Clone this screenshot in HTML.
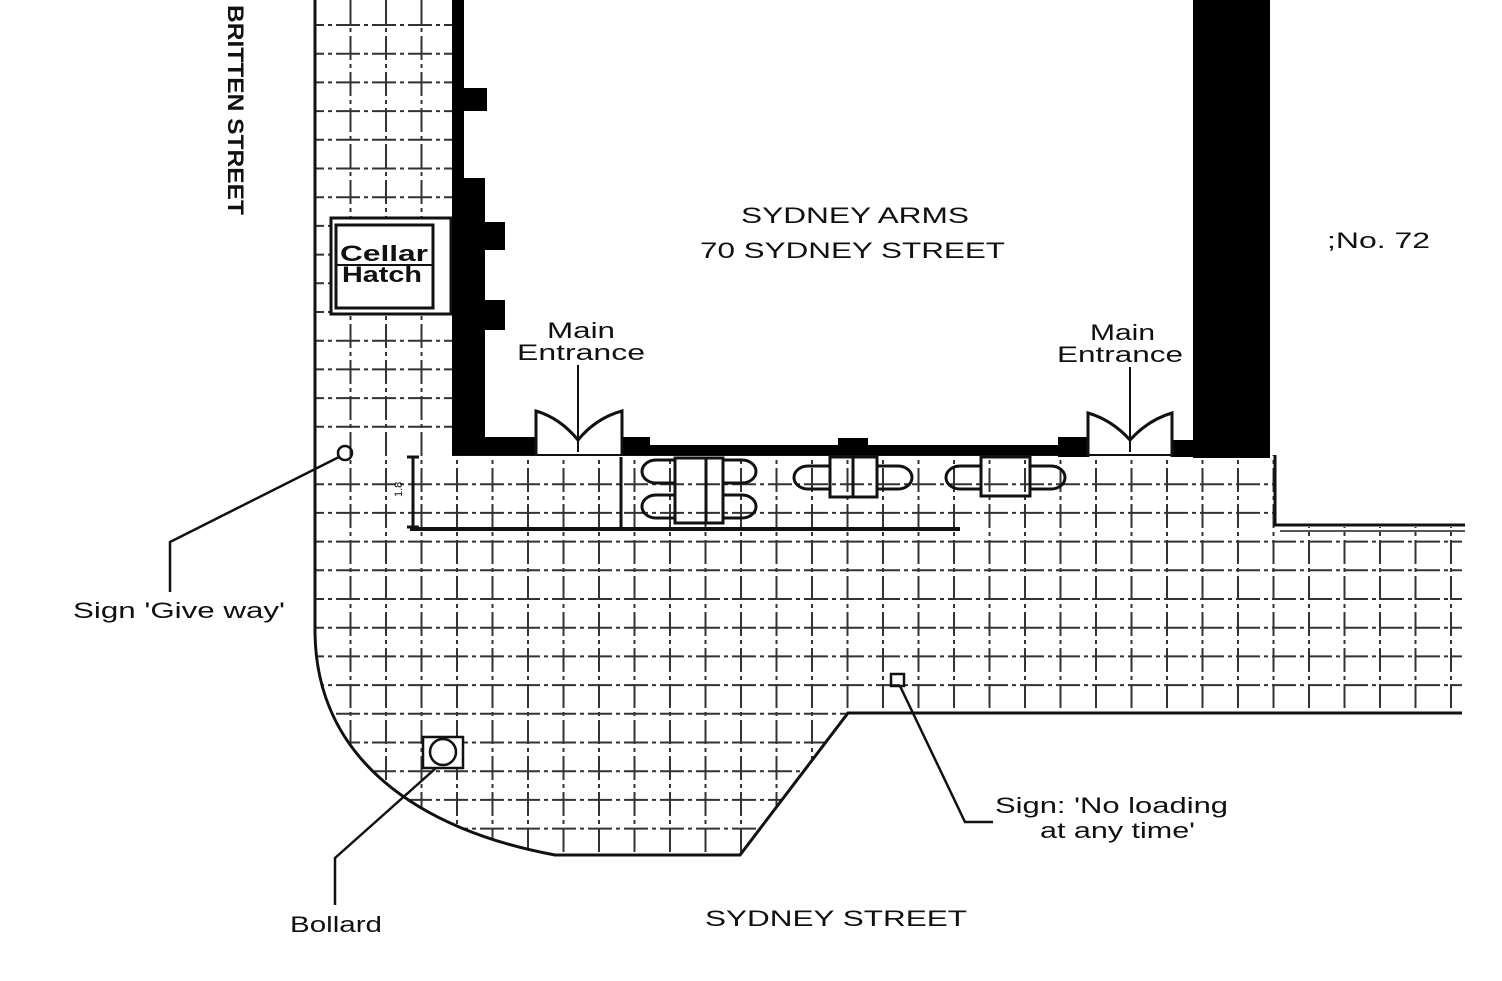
<!DOCTYPE html>
<html><head><meta charset="utf-8"><style>
html,body{margin:0;padding:0;background:#fff;}
svg{display:block;}
text{font-family:"Liberation Sans",sans-serif;fill:#111;}
</style></head><body>
<svg width="1502" height="981" viewBox="0 0 1502 981" xmlns="http://www.w3.org/2000/svg">
<defs>
<clipPath id="pv">
<path d="M315,0 L452,0 L452,455 L1275,455 L1275,527 L1462,527 L1462,713 L848,713 L740,855 L555,855 C420,830 315,760 315,630 Z"/>
</clipPath>
</defs>
<g clip-path="url(#pv)" stroke="#333" stroke-width="2" stroke-dasharray="24 4 4 4">
<g>
<line x1="350.5" y1="0" x2="350.5" y2="900"/><line x1="386" y1="0" x2="386" y2="900"/>
<line x1="421.5" y1="0" x2="421.5" y2="900"/><line x1="457" y1="0" x2="457" y2="900"/>
<line x1="492.5" y1="0" x2="492.5" y2="900"/><line x1="528" y1="0" x2="528" y2="900"/>
<line x1="563.5" y1="0" x2="563.5" y2="900"/><line x1="599" y1="0" x2="599" y2="900"/>
<line x1="634.5" y1="0" x2="634.5" y2="900"/><line x1="670" y1="0" x2="670" y2="900"/>
<line x1="705.5" y1="0" x2="705.5" y2="900"/><line x1="741" y1="0" x2="741" y2="900"/>
<line x1="776.5" y1="0" x2="776.5" y2="900"/><line x1="812" y1="0" x2="812" y2="900"/>
<line x1="847.5" y1="0" x2="847.5" y2="900"/><line x1="883" y1="0" x2="883" y2="900"/>
<line x1="918.5" y1="0" x2="918.5" y2="900"/><line x1="954" y1="0" x2="954" y2="900"/>
<line x1="989.5" y1="0" x2="989.5" y2="900"/><line x1="1025" y1="0" x2="1025" y2="900"/>
<line x1="1060.5" y1="0" x2="1060.5" y2="900"/><line x1="1096" y1="0" x2="1096" y2="900"/>
<line x1="1131.5" y1="0" x2="1131.5" y2="900"/><line x1="1167" y1="0" x2="1167" y2="900"/>
<line x1="1202.5" y1="0" x2="1202.5" y2="900"/><line x1="1238" y1="0" x2="1238" y2="900"/>
<line x1="1273.5" y1="0" x2="1273.5" y2="900"/><line x1="1309" y1="0" x2="1309" y2="900"/>
<line x1="1344.5" y1="0" x2="1344.5" y2="900"/><line x1="1380" y1="0" x2="1380" y2="900"/>
<line x1="1415.5" y1="0" x2="1415.5" y2="900"/><line x1="1451" y1="0" x2="1451" y2="900"/>
</g>
<g>
<line x1="300" y1="25" x2="1470" y2="25"/><line x1="300" y1="53.7" x2="1470" y2="53.7"/>
<line x1="300" y1="82.4" x2="1470" y2="82.4"/><line x1="300" y1="111.1" x2="1470" y2="111.1"/>
<line x1="300" y1="139.8" x2="1470" y2="139.8"/><line x1="300" y1="168.5" x2="1470" y2="168.5"/>
<line x1="300" y1="197.2" x2="1470" y2="197.2"/><line x1="300" y1="225.9" x2="1470" y2="225.9"/>
<line x1="300" y1="254.6" x2="1470" y2="254.6"/><line x1="300" y1="283.3" x2="1470" y2="283.3"/>
<line x1="300" y1="312" x2="1470" y2="312"/><line x1="300" y1="340.7" x2="1470" y2="340.7"/>
<line x1="300" y1="369.4" x2="1470" y2="369.4"/><line x1="300" y1="398.1" x2="1470" y2="398.1"/>
<line x1="300" y1="426.8" x2="1470" y2="426.8"/><line x1="300" y1="484.2" x2="1470" y2="484.2"/>
<line x1="300" y1="512.9" x2="1470" y2="512.9"/><line x1="300" y1="541.6" x2="1470" y2="541.6"/>
<line x1="300" y1="570.3" x2="1470" y2="570.3"/><line x1="300" y1="599" x2="1470" y2="599"/>
<line x1="300" y1="627.7" x2="1470" y2="627.7"/><line x1="300" y1="656.4" x2="1470" y2="656.4"/>
<line x1="300" y1="685.1" x2="1470" y2="685.1"/><line x1="300" y1="713.8" x2="1470" y2="713.8"/>
<line x1="300" y1="742.5" x2="1470" y2="742.5"/><line x1="300" y1="771.2" x2="1470" y2="771.2"/>
<line x1="300" y1="799.9" x2="1470" y2="799.9"/><line x1="300" y1="828.6" x2="1470" y2="828.6"/>
</g>
</g>
<g fill="none" stroke="#111" stroke-width="3">
<path d="M315,0 L315,630 C315,760 420,830 555,855 L740,855 L848,713 L1462,713"/>
<line x1="452" y1="455" x2="1270" y2="455" stroke-width="2"/>
<path d="M1275,455 L1275,525 L1465,525" stroke-width="3"/>
<line x1="1280" y1="531" x2="1465" y2="531" stroke-width="2" stroke="#555"/>
</g>
<rect x="331" y="218" width="120" height="96" fill="#fff" stroke="#111" stroke-width="3"/>
<rect x="336" y="225" width="97" height="83" fill="#fff" stroke="#111" stroke-width="3"/>
<line x1="336" y1="265" x2="433" y2="265" stroke="#111" stroke-width="2"/>
<text x="340" y="261" font-size="22" font-weight="bold" textLength="88" lengthAdjust="spacingAndGlyphs">Cellar</text>
<text x="342" y="282" font-size="22" font-weight="bold" textLength="80" lengthAdjust="spacingAndGlyphs">Hatch</text>
<g fill="#000">
<rect x="452" y="0" width="12" height="455"/>
<rect x="452" y="88" width="35" height="23"/>
<rect x="452" y="178" width="33" height="277"/>
<rect x="452" y="222" width="53" height="28"/>
<rect x="452" y="300" width="53" height="30"/>
<rect x="452" y="437" width="84" height="18"/>
<rect x="622" y="437" width="28" height="18"/>
<rect x="622" y="445" width="440" height="10"/>
<rect x="838" y="438" width="30" height="10"/>
<rect x="1058" y="437" width="30" height="20"/>
<rect x="1172" y="440" width="22" height="17"/>
<rect x="1193" y="0" width="77" height="458"/>
</g>
<g fill="none" stroke="#111" stroke-width="3">
<path d="M536,455 L536,411 Q560,418 578,440 Q596,418 622,411 L622,455"/>
<line x1="578" y1="365" x2="578" y2="452" stroke-width="2"/>
<path d="M1088,457 L1088,413 Q1112,420 1130,440 Q1148,420 1172,413 L1172,457"/>
<line x1="1130" y1="367" x2="1130" y2="452" stroke-width="2"/>
</g>
<g stroke="#111" fill="none">
<path d="M413,457 L413,527 M407,457 L419,457 M407,527 L419,527" stroke-width="3"/>
<line x1="410" y1="529" x2="960" y2="529" stroke-width="4"/>
<line x1="621" y1="457" x2="621" y2="529" stroke-width="3"/>
</g>
<text x="0" y="0" font-size="11" transform="translate(402,497) rotate(-90)">1.8</text>
<g fill="none" stroke="#111" stroke-width="3">
<rect x="675" y="458" width="48" height="65"/>
<line x1="706" y1="458" x2="706" y2="523"/>
<path d="M675,460 L656,460 A14,11.5 0 0 0 656,483 L675,483"/>
<path d="M675,495 L656,495 A14,11.5 0 0 0 656,518 L675,518"/>
<path d="M723,460 L742,460 A14,11.5 0 0 1 742,483 L723,483"/>
<path d="M723,495 L742,495 A14,11.5 0 0 1 742,518 L723,518"/>
<rect x="830" y="457" width="47" height="40"/>
<line x1="853" y1="457" x2="853" y2="497"/>
<path d="M830,466 L808,466 A14,11.5 0 0 0 808,489 L830,489"/>
<path d="M877,466 L898,466 A14,11.5 0 0 1 898,489 L877,489"/>
<rect x="981" y="457" width="49" height="39"/>
<path d="M981,466 L960,466 A14,11.5 0 0 0 960,489 L981,489"/>
<path d="M1030,466 L1051,466 A14,11.5 0 0 1 1051,489 L1030,489"/>
</g>
<g fill="none" stroke="#111" stroke-width="2.5">
<circle cx="345" cy="453" r="7"/>
<path d="M339,457 L170,542 L170,592"/>
<rect x="423" y="737" width="40" height="31" fill="#fff"/>
<circle cx="443" cy="752" r="13"/>
<path d="M436,768 L335,858 L335,905"/>
<rect x="891" y="674" width="13" height="12"/>
<path d="M900,686 L965,822 L993,822"/>
</g>
<g font-size="22" lengthAdjust="spacingAndGlyphs">
<text x="741" y="223" textLength="228" lengthAdjust="spacingAndGlyphs">SYDNEY ARMS</text>
<text x="700" y="258" textLength="305" lengthAdjust="spacingAndGlyphs">70 SYDNEY STREET</text>
<text x="1327" y="248" textLength="103" lengthAdjust="spacingAndGlyphs">;No. 72</text>
<text x="547" y="338" textLength="68" lengthAdjust="spacingAndGlyphs">Main</text>
<text x="517" y="360" textLength="128" lengthAdjust="spacingAndGlyphs">Entrance</text>
<text x="1090" y="340" textLength="65" lengthAdjust="spacingAndGlyphs">Main</text>
<text x="1057" y="362" textLength="126" lengthAdjust="spacingAndGlyphs">Entrance</text>
<text x="73" y="618" textLength="212" lengthAdjust="spacingAndGlyphs">Sign 'Give way'</text>
<text x="290" y="932" textLength="92" lengthAdjust="spacingAndGlyphs">Bollard</text>
<text x="995" y="813" textLength="233" lengthAdjust="spacingAndGlyphs">Sign: 'No loading</text>
<text x="1040" y="838" textLength="155" lengthAdjust="spacingAndGlyphs">at any time'</text>
<text x="705" y="926" textLength="262" lengthAdjust="spacingAndGlyphs">SYDNEY STREET</text>
</g>
<text x="0" y="0" font-size="22" font-weight="bold" textLength="210" lengthAdjust="spacingAndGlyphs" transform="translate(228,5) rotate(90)">BRITTEN STREET</text>
</svg>
</body></html>
